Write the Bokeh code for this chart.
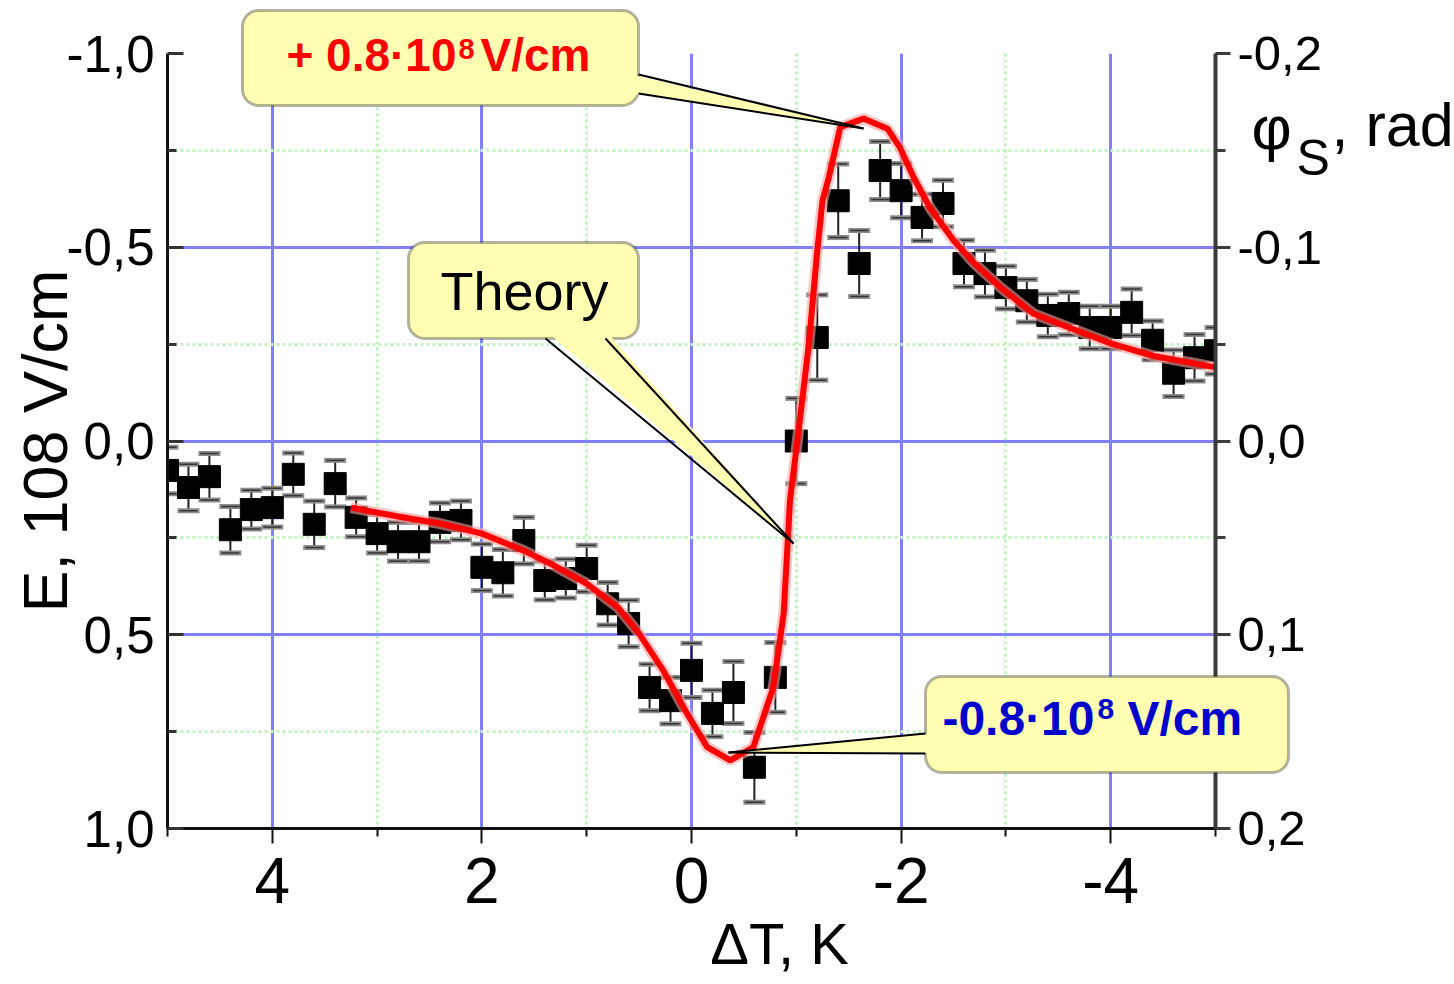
from bokeh.plotting import figure
from bokeh.models import (Range1d, LinearAxis, FixedTicker, CustomJSTickFormatter,
                          BoxAnnotation, PolyAnnotation, Arrow, Label, ColumnDataSource)
from bokeh.embed import file_html
from bokeh.resources import INLINE

# ---------------- data ----------------
delta_T = [5.0, 4.8, 4.6, 4.4, 4.2, 4.0, 3.8, 3.6, 3.4, 3.2, 3.0, 2.8, 2.6, 2.4, 2.2,
           2.0, 1.8, 1.6, 1.4, 1.2, 1.0, 0.8, 0.6, 0.4, 0.2, 0.0, -0.2, -0.4, -0.6, -0.8,
           -1.0, -1.2, -1.4, -1.6, -1.8, -2.0, -2.2, -2.4, -2.6, -2.8, -3.0, -3.2, -3.4,
           -3.6, -3.8, -4.0, -4.2, -4.4, -4.6, -4.8, -5.0]
E_exp = [0.076, 0.12, 0.092, 0.229, 0.177, 0.172, 0.086, 0.215, 0.11, 0.197, 0.239, 0.26,
         0.26, 0.21, 0.205, 0.326, 0.34, 0.257, 0.36, 0.355, 0.329, 0.42, 0.471, 0.636,
         0.67, 0.592, 0.703, 0.649, 0.842, 0.61, 0.0, -0.267, -0.62, -0.458, -0.698,
         -0.646, -0.577, -0.613, -0.458, -0.432, -0.396, -0.362, -0.324, -0.329, -0.293,
         -0.293, -0.332, -0.26, -0.175, -0.215, -0.233]
E_err = [0.06, 0.06, 0.06, 0.06, 0.05, 0.05, 0.055, 0.06, 0.06, 0.05, 0.05, 0.05, 0.05,
         0.05, 0.05, 0.06, 0.06, 0.06, 0.05, 0.05, 0.06, 0.055, 0.06, 0.06, 0.06, 0.07,
         0.06, 0.08, 0.09, 0.09, 0.11, 0.11, 0.095, 0.085, 0.075, 0.07, 0.06, 0.06, 0.06,
         0.06, 0.055, 0.055, 0.055, 0.055, 0.055, 0.055, 0.06, 0.05, 0.06, 0.06, 0.06]

theory_T = [3.25, 2.8, 2.4, 2.0, 1.6, 1.35, 1.0, 0.7, 0.5, 0.27, 0.05, -0.15, -0.37, -0.59,
            -0.78, -0.88, -0.94, -1.01, -1.12, -1.2, -1.25, -1.31, -1.42, -1.64, -1.87,
            -1.99, -2.12, -2.28, -2.5, -2.7, -2.95, -3.26, -3.6, -4.0, -4.4, -5.0]
theory_E = [0.172, 0.195, 0.213, 0.239, 0.283, 0.316, 0.368, 0.43, 0.497, 0.592, 0.70,
            0.79, 0.824, 0.79, 0.636, 0.445, 0.153, 0.0, -0.25, -0.49, -0.62, -0.68, -0.81,
            -0.832, -0.806, -0.757, -0.68, -0.60, -0.518, -0.458, -0.396, -0.329, -0.293,
            -0.252, -0.22, -0.19]

x_major = [4, 2, 0, -2, -4]
x_minor = [5, 3, 1, -1, -3, -5]
e_major = [-1.0, -0.5, 0.0, 0.5, 1.0]
e_grid = [-0.5, 0.0, 0.5]
e_minor = [-0.75, -0.25, 0.25, 0.75]
phi_major = [-0.2, -0.1, 0.0, 0.1, 0.2]
phi_minor = [-0.15, -0.05, 0.05, 0.15]

FONT = "Liberation Sans"

# ---------------- layout ----------------
W, H = 1454, 984
F_L, F_R, F_T, F_B = 167, 1215, 53, 828      # plot frame edges on the canvas
X0, X1 = 5.0, -5.0                            # x range (reversed)
Y_BOTTOM, Y_TOP = 1.0, -1.0                   # y range (reversed)
PIN = {"position": "absolute", "top": "0px", "left": "0px"}

p = figure(width=W, height=H, x_range=Range1d(X0, X1), y_range=Range1d(Y_BOTTOM, Y_TOP),
           output_backend="svg", toolbar_location=None,
           min_border_left=F_L, min_border_right=W - F_R, min_border_top=F_T,
           min_border_bottom=H - F_B,
           background_fill_color="white", border_fill_color="white", outline_line_color=None)
p.styles = PIN
p.extra_y_ranges = {"phi": Range1d(0.2, -0.2)}

comma_fmt = CustomJSTickFormatter(code="var s = tick.toFixed(1).replace('.', ','); return s == '-0,0' ? '0,0' : s;")

# x axis
xa = p.xaxis[0]
xa.ticker = FixedTicker(ticks=x_major, minor_ticks=x_minor)
xa.formatter = CustomJSTickFormatter(code="return tick.toFixed(0);")
xa.axis_line_color = "#111111"
xa.axis_line_width = 3
xa.major_tick_out = 15
xa.major_tick_in = 0
xa.minor_tick_out = 8
xa.minor_tick_in = 0
xa.major_tick_line_width = 2
xa.minor_tick_line_width = 2
xa.major_tick_line_color = "#111111"
xa.minor_tick_line_color = "#111111"
xa.major_label_text_font = FONT
xa.major_label_text_font_size = "64px"
xa.major_label_text_color = "black"
xa.major_label_standoff = 14

# left y axis
ya = p.yaxis[0]
ya.ticker = FixedTicker(ticks=e_major, minor_ticks=e_minor)
ya.formatter = comma_fmt
ya.axis_line_color = "#111111"
ya.axis_line_width = 3
ya.major_tick_in = 16
ya.major_tick_out = 0
ya.minor_tick_in = 9
ya.minor_tick_out = 0
ya.major_tick_line_width = 3
ya.minor_tick_line_width = 3
ya.major_tick_line_color = "#333333"
ya.minor_tick_line_color = "#333333"
ya.major_label_text_font = FONT
ya.major_label_text_font_size = "51px"
ya.major_label_text_color = "black"
ya.major_label_standoff = 13
ya.axis_label = "E, 108 V/cm"
ya.axis_label_text_font = FONT
ya.axis_label_text_font_size = "63px"
ya.axis_label_text_font_style = "normal"
ya.axis_label_text_color = "black"
ya.axis_label_standoff = -16

# right axis
ra = LinearAxis(y_range_name="phi", ticker=FixedTicker(ticks=phi_major, minor_ticks=phi_minor),
                formatter=comma_fmt)
ra.axis_line_color = "#3a3a3a"
ra.axis_line_width = 4
ra.major_tick_out = 15
ra.major_tick_in = 0
ra.minor_tick_out = 10
ra.minor_tick_in = 0
ra.major_tick_line_width = 3
ra.minor_tick_line_width = 3
ra.major_tick_line_color = "#3a3a3a"
ra.minor_tick_line_color = "#3a3a3a"
ra.major_label_text_font = FONT
ra.major_label_text_font_size = "49px"
ra.major_label_text_color = "black"
ra.major_label_standoff = 7
p.add_layout(ra, "right")

# grids
p.xgrid.ticker = FixedTicker(ticks=x_major, minor_ticks=[3, 1, -1, -3])
p.ygrid.ticker = FixedTicker(ticks=e_grid, minor_ticks=e_minor)
for g in (p.xgrid[0], p.ygrid[0]):
    g.grid_line_color = "#8080ff"
    g.grid_line_width = 3
    g.minor_grid_line_color = "#c4f2c4"
    g.minor_grid_line_width = 3
    g.minor_grid_line_dash = "3 3"

# ---------------- data marks ----------------
lo = [e + d for e, d in zip(E_exp, E_err)]
hi = [e - d for e, d in zip(E_exp, E_err)]
src = ColumnDataSource(dict(x=delta_T, y=E_exp, lo=lo, hi=hi))

p.segment(x0="x", y0="lo", x1="x", y1="hi", source=src, line_color="#222222", line_width=2)
for col in ("lo", "hi"):
    p.scatter("x", col, marker="dash", size=22, line_color="#8c8c8c", line_width=5, source=src)
    p.scatter("x", col, marker="dash", size=18, line_color="#333333", line_width=1.5, source=src)
p.scatter("x", "y", marker="square", size=22, fill_color="black", line_color="black", source=src)

p.line(theory_T, theory_E, line_color="#ff9c9c", line_width=11, line_alpha=0.6)
p.line(theory_T, theory_E, line_color="#ff0000", line_width=6)


# ---------------- transparent overlay for callouts / titles outside the frame ----------------
def ax(px):  # canvas-pixel x -> data x (annotation placement only)
    return X0 + (px - F_L) * (X1 - X0) / (F_R - F_L)


def ay(py):  # canvas-pixel y -> data y (annotation placement only)
    return Y_TOP + (py - F_T) * (Y_BOTTOM - Y_TOP) / (F_B - F_T)


ov = figure(width=W, height=H, x_range=Range1d(ax(0), ax(W)), y_range=Range1d(ay(H), ay(0)),
            output_backend="svg", toolbar_location=None, x_axis_type=None, y_axis_type=None,
            min_border_left=0, min_border_right=0, min_border_top=0, min_border_bottom=0,
            background_fill_color=None, border_fill_color=None, outline_line_color=None)
ov.styles = PIN
ov.grid.visible = False

BOX_FILL = "#ffffb4"
BASELINE_FIX = 0.39   # measured offset of the rendered baseline, in em


def lab(px, py, text, size, color="black", style="normal", align="left"):
    ov.add_layout(Label(x=ax(px), y=ay(py - BASELINE_FIX * size), text=text, text_font=FONT,
                        text_font_size=f"{size}px", text_font_style=style, text_color=color,
                        text_align=align, text_baseline="alphabetic"))


def callout(box, tail_fill, edges):
    l, r, t, b = box
    ov.add_layout(BoxAnnotation(left=ax(l), right=ax(r), top=ay(t), bottom=ay(b),
                                fill_color=BOX_FILL, fill_alpha=1.0, line_color="black",
                                line_width=3, border_radius=16))
    ov.add_layout(PolyAnnotation(xs=[ax(v[0]) for v in tail_fill], ys=[ay(v[1]) for v in tail_fill],
                                 fill_color=BOX_FILL, fill_alpha=1.0, line_color=None))
    for (x0, y0), (x1, y1) in edges:
        ov.add_layout(Arrow(end=None, x_start=ax(x0), y_start=ay(y0), x_end=ax(x1), y_end=ay(y1),
                            line_color="black", line_width=2))


# "+0.8·10^8 V/cm" callout pointing at the theory maximum
callout((242, 638, 10, 105),
        [(630, 74), (630, 93), (863, 128)],
        [((638, 74), (863, 128)), ((638, 93), (863, 128))])
lab(456, 72, "+ 0.8·10", 46, "#ff0000", "bold", "right")
lab(458, 60, "8", 29, "#ff0000", "bold")
lab(480, 72, "V/cm", 46, "#ff0000", "bold")

# "Theory" callout
callout((408, 638, 242, 338),
        [(545, 330), (605, 330), (793, 543)],
        [((545, 338), (793, 543)), ((605, 338), (793, 543))])
lab(524, 312, "Theory", 54, "black", "normal", "center")

# "-0.8·10^8 V/cm" callout pointing at the theory minimum
callout((925, 1288, 676, 772),
        [(933, 733), (933, 753), (728, 752)],
        [((925, 733), (728, 752)), ((925, 753), (728, 752))])
lab(1094, 737, "-0.8·10", 48, "#0000cc", "bold", "right")
lab(1097, 720, "8", 30, "#0000cc", "bold")
lab(1127, 737, "V/cm", 48, "#0000cc", "bold")

# right axis title  φS, rad
lab(1251, 151, "φ", 62)
lab(1296, 177, "S", 50)
lab(1331, 148, ", rad", 61)

# x axis title
lab(779, 966, "ΔT, K", 58, align="center")

open("out.html", "w").write(file_html([p, ov], INLINE))
